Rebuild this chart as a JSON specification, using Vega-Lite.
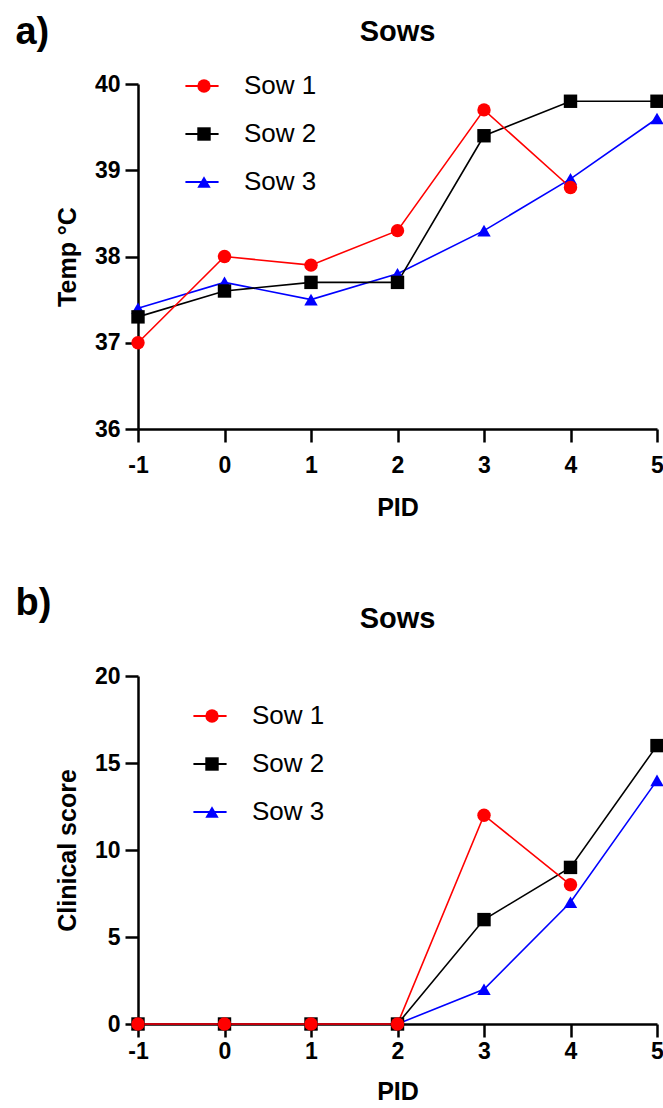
{
  "$schema": "https://vega.github.io/schema/vega-lite/v6.json",
  "background": "white",
  "padding": {"left": 15, "top": 14, "right": 0, "bottom": 0},
  "config": {
    "view": {"stroke": null},
    "font": "Liberation Sans",
    "title": {"color": "black", "font": "Liberation Sans", "fontWeight": "bold"},
    "axis": {
      "grid": false,
      "domainColor": "black",
      "domainWidth": 2.5,
      "tickColor": "black",
      "tickWidth": 2.5,
      "tickSize": 13,
      "labelFlush": false,
      "labelColor": "black",
      "labelFont": "Liberation Sans",
      "labelFontSize": 23,
      "labelFontWeight": "bold",
      "titleColor": "black",
      "titleFont": "Liberation Sans",
      "titleFontSize": 25,
      "titleFontWeight": "bold"
    },
    "legend": {
      "labelFont": "Liberation Sans",
      "labelFontSize": 26,
      "labelColor": "black",
      "padding": 0
    }
  },
  "resolve": {"scale": {"color": "independent", "shape": "independent", "stroke": "independent"}, "legend": {"color": "independent", "shape": "independent", "stroke": "independent"}},
  "datasets": {
    "temp": [
      {"sow": "Sow 3", "pid": -1, "value": 37.4},
      {"sow": "Sow 3", "pid": 0, "value": 37.7},
      {"sow": "Sow 3", "pid": 1, "value": 37.5},
      {"sow": "Sow 3", "pid": 2, "value": 37.8},
      {"sow": "Sow 3", "pid": 3, "value": 38.3},
      {"sow": "Sow 3", "pid": 4, "value": 38.9},
      {"sow": "Sow 3", "pid": 5, "value": 39.6},
      {"sow": "Sow 2", "pid": -1, "value": 37.3},
      {"sow": "Sow 2", "pid": 0, "value": 37.6},
      {"sow": "Sow 2", "pid": 1, "value": 37.7},
      {"sow": "Sow 2", "pid": 2, "value": 37.7},
      {"sow": "Sow 2", "pid": 3, "value": 39.4},
      {"sow": "Sow 2", "pid": 4, "value": 39.8},
      {"sow": "Sow 2", "pid": 5, "value": 39.8},
      {"sow": "Sow 1", "pid": -1, "value": 37.0},
      {"sow": "Sow 1", "pid": 0, "value": 38.0},
      {"sow": "Sow 1", "pid": 1, "value": 37.9},
      {"sow": "Sow 1", "pid": 2, "value": 38.3},
      {"sow": "Sow 1", "pid": 3, "value": 39.7},
      {"sow": "Sow 1", "pid": 4, "value": 38.8}
    ],
    "score": [
      {"sow": "Sow 3", "pid": -1, "value": 0},
      {"sow": "Sow 3", "pid": 0, "value": 0},
      {"sow": "Sow 3", "pid": 1, "value": 0},
      {"sow": "Sow 3", "pid": 2, "value": 0},
      {"sow": "Sow 3", "pid": 3, "value": 2},
      {"sow": "Sow 3", "pid": 4, "value": 7},
      {"sow": "Sow 3", "pid": 5, "value": 14},
      {"sow": "Sow 2", "pid": -1, "value": 0},
      {"sow": "Sow 2", "pid": 0, "value": 0},
      {"sow": "Sow 2", "pid": 1, "value": 0},
      {"sow": "Sow 2", "pid": 2, "value": 0},
      {"sow": "Sow 2", "pid": 3, "value": 6},
      {"sow": "Sow 2", "pid": 4, "value": 9},
      {"sow": "Sow 2", "pid": 5, "value": 16},
      {"sow": "Sow 1", "pid": -1, "value": 0},
      {"sow": "Sow 1", "pid": 0, "value": 0},
      {"sow": "Sow 1", "pid": 1, "value": 0},
      {"sow": "Sow 1", "pid": 2, "value": 0},
      {"sow": "Sow 1", "pid": 3, "value": 12},
      {"sow": "Sow 1", "pid": 4, "value": 8}
    ]
  },
  "spacing": 65,
  "vconcat": [
    {
      "title": {"text": "a)", "anchor": "start", "frame": "bounds", "fontSize": 38, "offset": 0, "dx": -40, "dy": 34},
      "vconcat": [
        {
          "width": 519,
          "height": 345,
          "title": {"text": "Sows", "fontSize": 29, "offset": 14, "dy": -12},
          "data": {"name": "temp"},
          "encoding": {
            "x": {"field": "pid", "type": "quantitative", "title": "PID",
              "scale": {"domain": [-1, 5], "nice": false, "zero": false},
              "axis": {"values": [-1, 0, 1, 2, 3, 4, 5], "labelExpr": "datum.value + ''", "labelPadding": 12, "titlePadding": 18}},
            "y": {"field": "value", "type": "quantitative", "title": "Temp °C",
              "scale": {"domain": [36, 40], "nice": false, "zero": false},
              "axis": {"values": [36, 37, 38, 39, 40], "labelExpr": "datum.value + ''", "labelPadding": 5, "titlePadding": 14}}
          },
          "layer": [
            {
              "mark": {"type": "line", "strokeWidth": 1.6},
              "encoding": {
                "stroke": {"field": "sow", "type": "nominal",
                  "scale": {"range": ["#ff0000", "#000000", "#0000ff"]},
                  "legend": {"title": null, "orient": "none", "legendX": 46, "legendY": -16,
                    "symbolType": "stroke", "symbolSize": 1100, "symbolStrokeWidth": 2,
                    "rowPadding": 17, "labelOffset": 24}}
              }
            },
            {
              "mark": {"type": "point", "filled": true, "opacity": 1, "size": 180},
              "encoding": {
                "color": {"field": "sow", "type": "nominal",
                  "scale": {"domain": ["Sow 1", "Sow 2", "Sow 3"], "range": ["#ff0000", "#000000", "#0000ff"]},
                  "legend": {"title": null, "orient": "none", "legendX": 53, "legendY": -11,
                    "symbolSize": 180, "rowPadding": 22, "labelOffset": 24, "labelColor": "transparent"}},
                "shape": {"field": "sow", "type": "nominal",
                  "scale": {"domain": ["Sow 1", "Sow 2", "Sow 3"], "range": ["circle", "square", "triangle-up"]},
                  "legend": {"title": null, "orient": "none", "legendX": 53, "legendY": -11,
                    "symbolSize": 180, "rowPadding": 22, "labelOffset": 24, "labelColor": "transparent"}}
              }
            }
          ]
        }
      ]
    },
    {
      "title": {"text": "b)", "anchor": "start", "frame": "bounds", "fontSize": 38, "offset": 0, "dx": -40, "dy": 18},
      "vconcat": [
        {
          "width": 519,
          "height": 348,
          "title": {"text": "Sows", "fontSize": 29, "offset": 19, "dy": -12},
          "data": {"name": "score"},
          "encoding": {
            "x": {"field": "pid", "type": "quantitative", "title": "PID",
              "scale": {"domain": [-1, 5], "nice": false, "zero": false},
              "axis": {"values": [-1, 0, 1, 2, 3, 4, 5], "labelExpr": "datum.value + ''", "labelPadding": 3, "titlePadding": 16}},
            "y": {"field": "value", "type": "quantitative", "title": "Clinical score",
              "scale": {"domain": [0, 20], "nice": false, "zero": false},
              "axis": {"values": [0, 5, 10, 15, 20], "labelExpr": "datum.value + ''", "labelPadding": 5, "titlePadding": 14}}
          },
          "layer": [
            {
              "mark": {"type": "line", "strokeWidth": 1.6},
              "encoding": {
                "stroke": {"field": "sow", "type": "nominal",
                  "scale": {"range": ["#ff0000", "#000000", "#0000ff"]},
                  "legend": {"title": null, "orient": "none", "legendX": 54, "legendY": 22,
                    "symbolType": "stroke", "symbolSize": 1100, "symbolStrokeWidth": 2,
                    "rowPadding": 17, "labelOffset": 24}}
              }
            },
            {
              "mark": {"type": "point", "filled": true, "opacity": 1, "size": 180},
              "encoding": {
                "color": {"field": "sow", "type": "nominal",
                  "scale": {"domain": ["Sow 1", "Sow 2", "Sow 3"], "range": ["#ff0000", "#000000", "#0000ff"]},
                  "legend": {"title": null, "orient": "none", "legendX": 61, "legendY": 27,
                    "symbolSize": 180, "rowPadding": 22, "labelOffset": 24, "labelColor": "transparent"}},
                "shape": {"field": "sow", "type": "nominal",
                  "scale": {"domain": ["Sow 1", "Sow 2", "Sow 3"], "range": ["circle", "square", "triangle-up"]},
                  "legend": {"title": null, "orient": "none", "legendX": 61, "legendY": 27,
                    "symbolSize": 180, "rowPadding": 22, "labelOffset": 24, "labelColor": "transparent"}}
              }
            }
          ]
        }
      ]
    }
  ]
}
